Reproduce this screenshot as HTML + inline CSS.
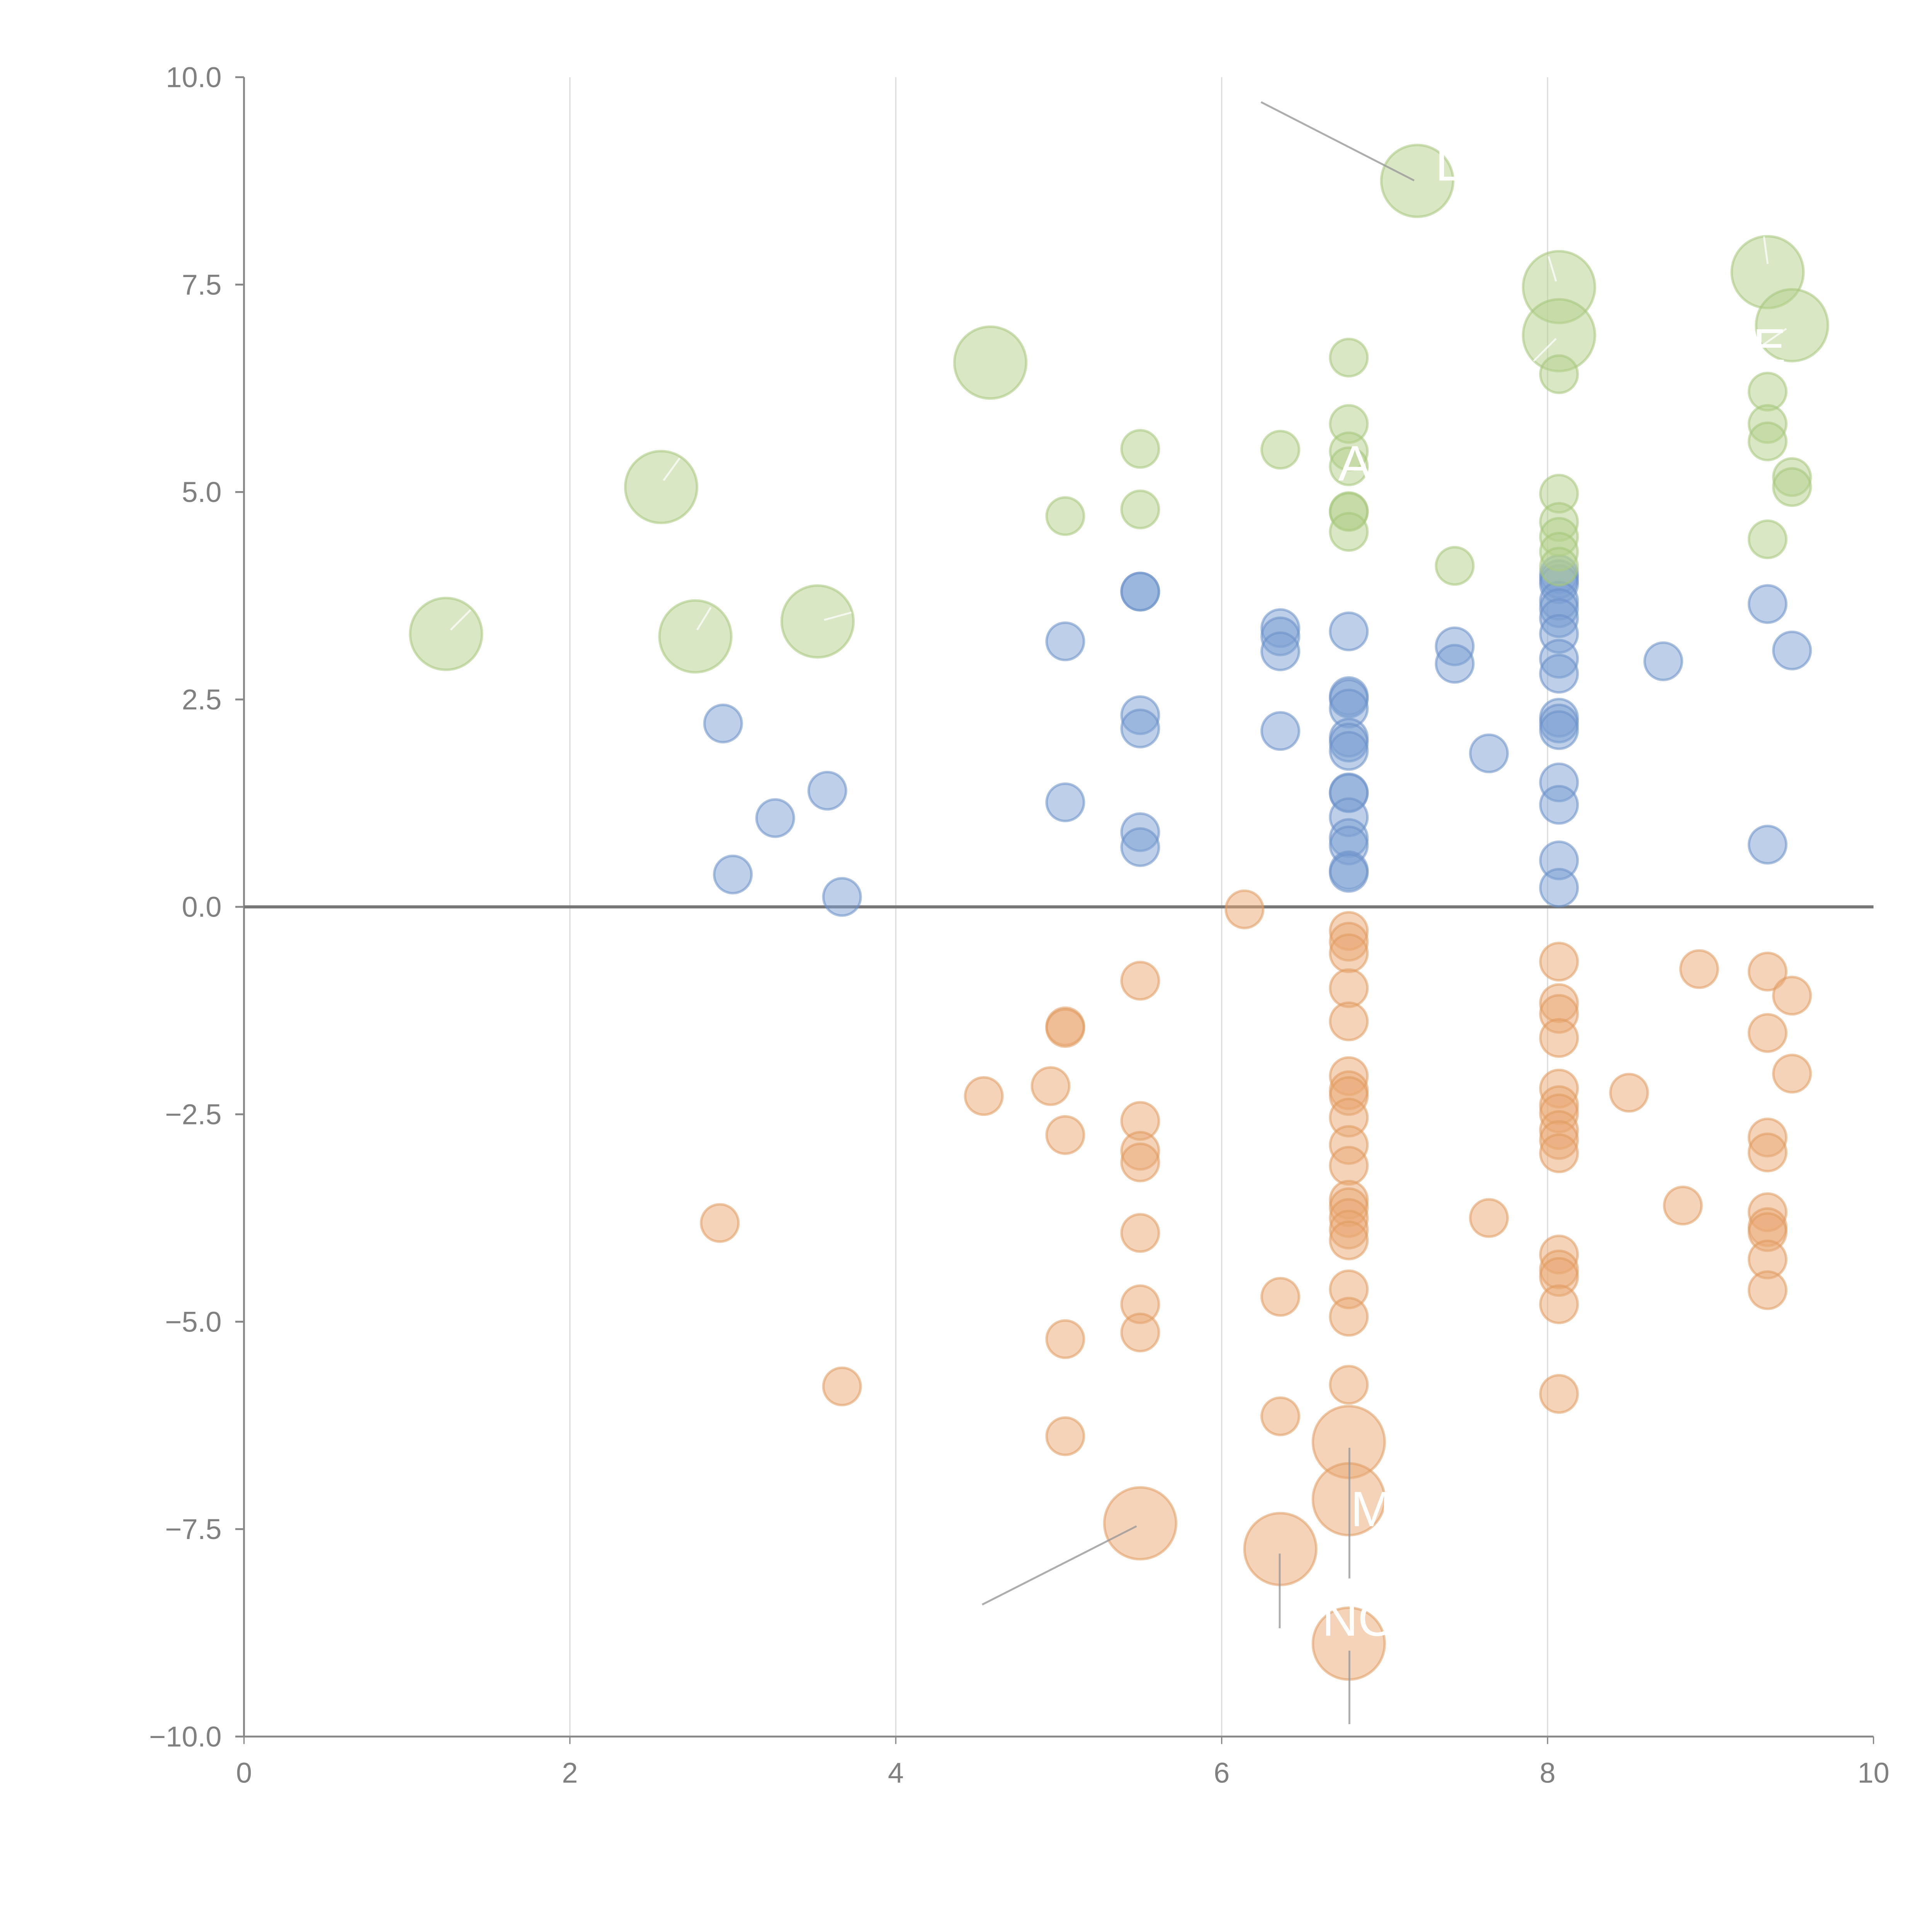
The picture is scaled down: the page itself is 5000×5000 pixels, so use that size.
<!DOCTYPE html>
<html><head><meta charset="utf-8"><style>html,body{margin:0;padding:0;background:#fff}svg{display:block}</style></head>
<body>
<svg id="chart" width="5000" height="5000" viewBox="0 0 1552 1552" xmlns="http://www.w3.org/2000/svg" font-family="Liberation Sans, Arial, sans-serif">
<g id="grid"></g>
<g id="axes"></g>
<g id="marks"></g>
<g id="ann"></g>
</svg>
<script>
const xTicks = [0, 2, 4, 6, 8, 10];
const yTicks = [10, 7.5, 5, 2.5, 0, -2.5, -5, -7.5, -10];
const yTickLabels = ["10.0", "7.5", "5.0", "2.5", "0.0", "\u22122.5", "\u22125.0", "\u22127.5", "\u221210.0"];

const greenX = [1.24,2.56,2.77,3.52,4.58,7.20,8.07,8.07,9.35,9.50, 5.04,5.50,5.50,6.36,6.78,6.78,6.78,6.78,6.78,6.78,6.78,7.43,8.07,8.07,8.07,8.07,8.07,8.07,9.35,9.35,9.35,9.35,9.50,9.50];
const greenY = [3.29,5.06,3.26,3.44,6.56,8.75,7.47,6.89,7.65,7.01, 4.71,5.52,4.79,5.51,6.62,5.82,5.49,4.77,4.76,4.52,5.31,4.11,6.42,4.98,4.64,4.46,4.28,4.10,6.21,5.82,5.61,4.43,5.18,5.06];
const greenS = [3.7,3.7,3.7,3.7,3.7,3.7,3.7,3.7,3.7,3.7, 1,1,1,1,1,1,1,1,1,1,1,1,1,1,1,1,1,1,1,1,1,1,1,1];

const blueX = [2.94,3.00,3.26,3.58,3.67,5.04,5.04,5.50,5.50,5.50,5.50,5.50,5.50,6.36,6.36,6.36,6.36,6.78,6.78,6.78,6.78,6.78,6.78,6.78,6.78,6.78,6.78,6.78,6.78,6.78,6.78,7.43,7.43,7.64,8.07,8.07,8.07,8.07,8.07,8.07,8.07,8.07,8.07,8.07,8.07,8.07,8.07,8.07,8.07,8.07,8.71,9.35,9.35,9.50];
const blueY = [2.21,0.39,1.07,1.40,0.12,3.20,1.26,3.80,3.80,2.31,2.15,0.90,0.72,3.36,3.26,3.08,2.12,3.32,2.54,2.51,2.39,2.04,1.98,1.88,1.38,1.37,1.08,0.83,0.74,0.44,0.41,3.14,2.93,1.85,4.01,3.95,3.89,3.69,3.60,3.48,3.29,2.99,2.81,2.28,2.21,2.13,1.50,1.23,0.56,0.23,2.96,3.65,0.75,3.09];

const orangeX = [2.92,3.67,4.54,4.95,5.04,5.04,5.04,5.04,5.04,5.50,5.50,5.50,5.50,5.50,5.50,5.50,6.14,6.36,6.36,6.78,6.78,6.78,6.78,6.78,6.78,6.78,6.78,6.78,6.78,6.78,6.78,6.78,6.78,6.78,6.78,6.78,6.78,6.78,7.64,8.07,8.07,8.07,8.07,8.07,8.07,8.07,8.07,8.07,8.07,8.07,8.07,8.07,8.07,8.07,8.50,8.83,8.93,9.35,9.35,9.35,9.35,9.35,9.35,9.35,9.35,9.35,9.50,9.50, 5.50,6.36,6.78,6.78,6.78];
const orangeY = [-3.81,-5.78,-2.28,-2.16,-1.44,-1.46,-2.75,-5.21,-6.38,-0.89,-2.58,-2.94,-3.08,-3.93,-4.79,-5.13,-0.03,-4.70,-6.14,-0.29,-0.42,-0.56,-0.98,-1.38,-2.04,-2.21,-2.28,-2.54,-2.87,-3.12,-3.53,-3.62,-3.75,-3.89,-4.02,-4.61,-4.94,-5.76,-3.75,-0.66,-1.16,-1.29,-1.58,-2.19,-2.39,-2.49,-2.69,-2.81,-2.97,-4.19,-4.37,-4.46,-4.79,-5.87,-2.24,-3.60,-0.75,-0.78,-1.52,-2.78,-2.96,-3.68,-3.86,-3.92,-4.25,-4.62,-1.07,-2.01, -7.43,-7.74,-6.45,-7.14,-8.88];
const orangeBig = 68; // index from which orange bubbles are large

const NS = "http://www.w3.org/2000/svg";
const X0 = 196, X1 = 1505, Y0 = 1395, Y1 = 62;
function sx(v){ return X0 + (v - 0) / 10 * (X1 - X0); }
function sy(v){ return Y0 - (v + 10) / 20 * (Y0 - Y1); }
function mk(tag, attrs, parent){ const e = document.createElementNS(NS, tag); for (const k in attrs) e.setAttribute(k, attrs[k]); parent.appendChild(e); return e; }

const grid = document.getElementById('grid'), axes = document.getElementById('axes'), marks = document.getElementById('marks'), ann = document.getElementById('ann');

xTicks.forEach(t => {
  if (t > 0 && t < 10) {
    const g = mk('line', {x1: sx(t), x2: sx(t), y1: Y1, y2: Y0, stroke: '#dcdcdc', 'stroke-width': 1}, grid);
    
    
  }
  const tk = mk('line', {x1: sx(t), x2: sx(t), y1: Y0, y2: Y0 + 6, stroke: '#888', 'stroke-width': 1}, axes);
  
  
  const lb = mk('text', {x: sx(t), y: Y0 + 37, 'text-anchor': 'middle', 'font-size': 23, fill: '#808080'}, axes);
  lb.textContent = t;
  
  
});
yTicks.forEach((t, i) => {
  const tk = mk('line', {x1: X0 - 7, x2: X0, y1: sy(t), y2: sy(t), stroke: '#888', 'stroke-width': 1.5}, axes);
  
  
  const lb = mk('text', {x: X0 - 18, y: sy(t) + 8, 'text-anchor': 'end', 'font-size': 23, fill: '#808080'}, axes);
  lb.textContent = yTickLabels[i];
  
  
});
const ya = mk('line', {x1: X0, x2: X0, y1: Y1, y2: Y0, stroke: '#888', 'stroke-width': 1.5}, axes);


const xa = mk('line', {x1: X0, x2: X1, y1: Y0, y2: Y0, stroke: '#888', 'stroke-width': 1.5}, axes);



function drawSeries(xs, ys, sizeOf, fill, stroke, name) {
  xs.forEach((x, i) => {
    const c = mk('circle', {cx: sx(x), cy: sy(ys[i]), r: 15 * Math.sqrt(sizeOf(i)), fill: fill, 'fill-opacity': 0.5, stroke: stroke, 'stroke-opacity': 0.55, 'stroke-width': 2}, marks);
    
    
  });
}
drawSeries(blueX, blueY, i => 1, '#7b9fd3', '#6a90c8', 'bubble-blue');
drawSeries(orangeX, orangeY, i => i >= orangeBig ? 3.7 : 1, '#e9a874', '#e09a5e', 'bubble-orange');
drawSeries(greenX, greenY, i => greenS[i], '#b4cf8c', '#a6c77a', 'bubble-green');

const zl = mk('line', {x1: X0, x2: X1, y1: sy(0), y2: sy(0), stroke: '#777', 'stroke-width': 2.5}, axes);


</script>
<script>
(function(){
  const NS = "http://www.w3.org/2000/svg";
  const ann = document.getElementById('ann');
  const leaders = [[1013,82,1136,145],[789,1289,913,1226],[1028,1248,1028,1308],[1084,1163,1084,1268],[1084,1326,1084,1385]];
  leaders.forEach(l => {
    const e = document.createElementNS(NS, 'line');
    e.setAttribute('x1', l[0]); e.setAttribute('y1', l[1]); e.setAttribute('x2', l[2]); e.setAttribute('y2', l[3]);
    e.setAttribute('stroke', '#999'); e.setAttribute('stroke-opacity', '0.8'); e.setAttribute('stroke-width', 1.5);
    
    
    ann.appendChild(e);
  });
  const whites = [[362,506,378,490],[533,386,546,368],[560,506,571,488],[662,498,684,492],[1250,226,1244,206],[1250,272,1232,290],[1420,212,1417,190],[1412,280,1435,264]];
  whites.forEach(l => {
    const e = document.createElementNS(NS, 'line');
    e.setAttribute('x1', l[0]); e.setAttribute('y1', l[1]); e.setAttribute('x2', l[2]); e.setAttribute('y2', l[3]);
    e.setAttribute('stroke', '#fff'); e.setAttribute('stroke-opacity', '0.7'); e.setAttribute('stroke-width', 1.5);
    
    
    ann.appendChild(e);
  });
  const labels = [["L",1153,145],["E",1408,292],["A",1075,386],["M",1085,1226],["NO",1062,1314]];
  labels.forEach(l => {
    const t = document.createElementNS(NS, 'text');
    t.setAttribute('x', l[1]); t.setAttribute('y', l[2]);
    t.setAttribute('font-size', 40); t.setAttribute('fill', '#fff');
    t.textContent = l[0];
    
    
    ann.appendChild(t);
  });
})();
</script>
</body></html>
